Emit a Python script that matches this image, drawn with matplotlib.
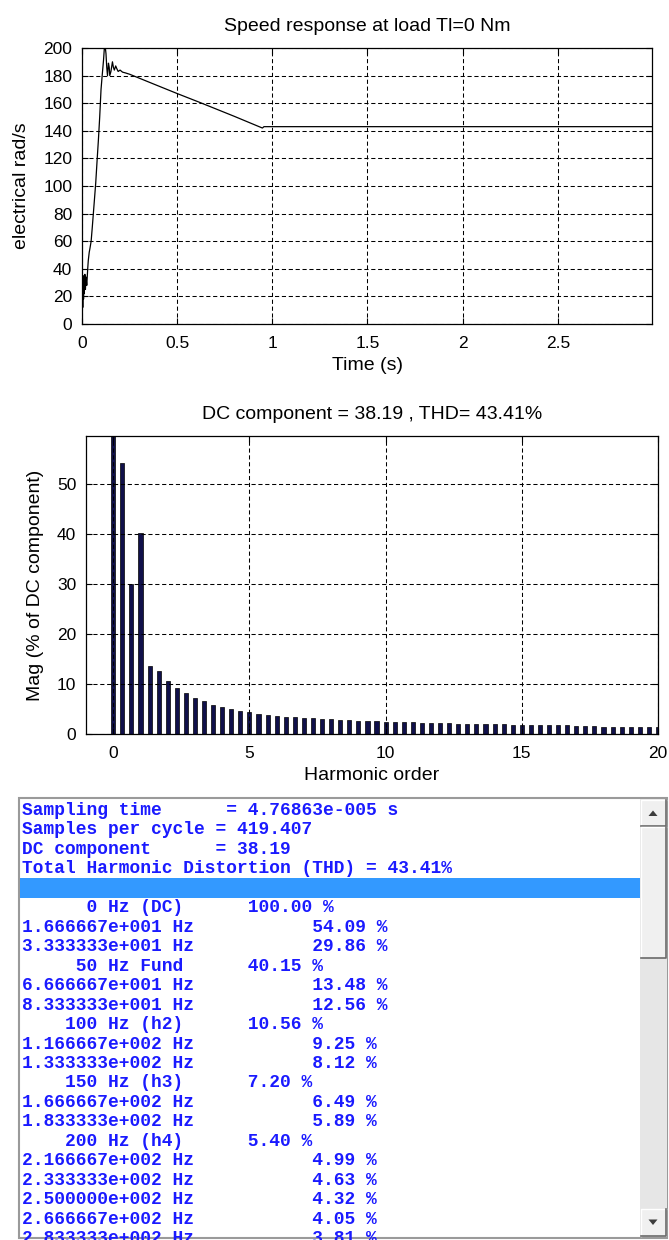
import numpy as np
import matplotlib.pyplot as plt
from matplotlib.patches import Rectangle, Polygon

plt.rcParams['font.family'] = ['Liberation Sans', 'DejaVu Sans']

# speed response at Tl = 0
time_s = [0.0, 0.002, 0.004, 0.006, 0.008, 0.010, 0.012, 0.015, 0.018, 0.021,
          0.025, 0.030, 0.033, 0.038, 0.042, 0.048, 0.054, 0.063, 0.072, 0.080,
          0.086, 0.093, 0.100, 0.106, 0.113, 0.118, 0.122, 0.126, 0.130, 0.134,
          0.139, 0.143, 0.146, 0.152, 0.160, 0.165, 0.170, 0.177, 0.183, 0.190,
          0.200, 0.213, 0.227, 0.250, 0.380, 0.500, 0.620, 0.800, 0.948, 0.956,
          1.200, 1.500, 2.000, 2.500, 3.000]
speed = [5, 30, 12, 35, 18, 33, 22, 36, 25, 34,
         28, 40, 46, 52, 55, 60, 70, 86, 102, 120,
         133, 150, 170, 180, 191, 201, 201, 196, 186, 180,
         189, 186, 180, 183, 190, 186, 184, 187, 185, 183,
         184, 182.5, 182, 181, 173.7, 167, 160.5, 150.5, 142, 143,
         143, 143, 143, 143, 143]

# FFT analysis: bins every 50/3 Hz, magnitude in % of DC
fund_hz = 50.0
bin_hz = fund_hz / 3
mag_pct = [100.00, 54.09, 29.86, 40.15, 13.48, 12.56, 10.56, 9.25, 8.12, 7.20,
           6.49, 5.89, 5.40, 4.99, 4.63, 4.32, 4.05, 3.81, 3.62, 3.45,
           3.30, 3.18, 3.10, 2.98, 2.90, 2.82, 2.72, 2.65, 2.58, 2.50,
           2.45, 2.40, 2.35, 2.30, 2.25, 2.20, 2.15, 2.12, 2.08, 2.04,
           2.00, 1.97, 1.94, 1.91, 1.88, 1.85, 1.82, 1.79, 1.76, 1.73,
           1.70, 1.55, 1.52, 1.50, 1.48, 1.46, 1.44, 1.42, 1.40, 1.38,
           1.36]
# bins that the listing names instead of printing the frequency
named_bins = {0: '0 Hz (DC)', 3: '50 Hz Fund', 6: '100 Hz (h2)',
              9: '150 Hz (h3)', 12: '200 Hz (h4)'}
dc_value = 38.19
thd_pct = 43.41
sampling_time = "4.76863e-005"
samples_per_cycle = "419.407"

freqs = np.arange(len(mag_pct)) * bin_hz
orders = freqs / fund_hz

fig = plt.figure(figsize=(6.69, 12.40), dpi=100)
W, H = 669.0, 1240.0


def px_axes(left, top, right, bottom):
    return fig.add_axes([left / W, 1 - bottom / H, (right - left) / W, (bottom - top) / H])


def matlab_style(ax):
    ax.grid(True, color='black', linestyle=(0, (4, 2.6)), linewidth=0.75)
    ax.set_axisbelow(False)
    ax.tick_params(direction='in', top=True, right=True, length=4, labelsize=12.5,
                   width=0.8)
    for s in ax.spines.values():
        s.set_linewidth(0.9)


# --- speed response ---
ax1 = px_axes(82, 48, 652, 324)
ax1.plot(time_s, speed, color='black', linewidth=0.9)
ax1.set_xlim(0, 2.995)
ax1.set_ylim(0, 200)
ax1.set_xticks([0, 0.5, 1, 1.5, 2, 2.5])
ax1.set_xticklabels(['0', '0.5', '1', '1.5', '2', '2.5'])
ax1.set_yticks(np.arange(0, 201, 20))
matlab_style(ax1)
ax1.tick_params(axis='x', pad=9)
ax1.tick_params(axis='y', pad=7)
ax1.set_title('Speed response at load Tl=0 Nm', fontsize=14, pad=12)
ax1.set_xlabel('Time (s)', fontsize=14)
ax1.xaxis.set_label_coords(0.5, -0.12)
ax1.set_ylabel('electrical rad/s', fontsize=14)
ax1.yaxis.set_label_coords(-0.092, 0.5)

# --- harmonic spectrum ---
ax2 = px_axes(86, 436, 658, 734)
ax2.bar(orders, mag_pct, width=0.15, color='#10104a', edgecolor='black', linewidth=0.5)
ax2.set_xlim(-1, 20)
ax2.set_ylim(0, 59.5)
ax2.set_xticks([0, 5, 10, 15, 20])
ax2.set_yticks([0, 10, 20, 30, 40, 50])
matlab_style(ax2)
ax2.tick_params(axis='x', pad=9)
ax2.tick_params(axis='y', pad=7)
ax2.set_title(f'DC component = {dc_value:.2f} , THD= {thd_pct:.2f}%', fontsize=14, pad=12)
ax2.set_xlabel('Harmonic order', fontsize=14)
ax2.xaxis.set_label_coords(0.5, -0.11)
ax2.set_ylabel('Mag (% of DC component)', fontsize=14)
ax2.yaxis.set_label_coords(-0.074, 0.5)


# --- FFT listbox ---
def fmt_freq(f):
    e = int(np.floor(np.log10(f)))
    return f"{f / 10 ** e:.6f}e+{e:03d} Hz"


lines = [
    f"Sampling time      = {sampling_time} s",
    f"Samples per cycle = {samples_per_cycle}",
    f"DC component      = {dc_value:.2f}",
    f"Total Harmonic Distortion (THD) = {thd_pct:.2f}%",
    "",
]
for k in range(23):
    if k in named_bins:
        lines.append(f"{named_bins[k]:>15}      {mag_pct[k]:.2f} %")
    else:
        lines.append(f"{fmt_freq(freqs[k])}           {mag_pct[k]:.2f} %")

ax3 = fig.add_axes([0, 0, 1, 450 / H])
ax3.set_xlim(0, W)
ax3.set_ylim(H, H - 450)
ax3.axis('off')

ax3.add_patch(Rectangle((19, 798), 648, 440, facecolor='white', edgecolor='#9a9a9a',
                        linewidth=1.5))
ax3.add_patch(Rectangle((20, 878), 620, 19.5, facecolor='#3399ff', edgecolor='none'))

clip = Rectangle((20, 799), 620, 437, transform=ax3.transData, facecolor='none')
for i, line in enumerate(lines):
    t = ax3.text(22, 815 + 19.46 * i, line, family='Liberation Mono', fontsize=12.9,
                 fontweight='bold', color='#1a1aff', va='baseline', ha='left')
    t.set_clip_path(clip)

# scrollbar
ax3.add_patch(Rectangle((640, 799), 27, 438, facecolor='#e6e6e6', edgecolor='none',
                        hatch='....', linewidth=0))
for (y0, y1) in [(800, 826), (827, 958), (1209, 1236)]:
    ax3.add_patch(Rectangle((641, y0), 25, y1 - y0, facecolor='#f0f0f0',
                            edgecolor='none'))
    ax3.plot([641, 641, 666], [y1, y0, y0], color='white', linewidth=1)
    ax3.plot([641, 666, 666], [y1, y1, y0], color='#6a6a6a', linewidth=1.2)
ax3.add_patch(Polygon([(648.5, 816), (657.5, 816), (653, 810.5)], closed=True,
                      facecolor='#3c3c3c', edgecolor='none'))
ax3.add_patch(Polygon([(648.5, 1219.5), (657.5, 1219.5), (653, 1225)], closed=True,
                      facecolor='#3c3c3c', edgecolor='none'))

fig.savefig('out.png', dpi=100)
